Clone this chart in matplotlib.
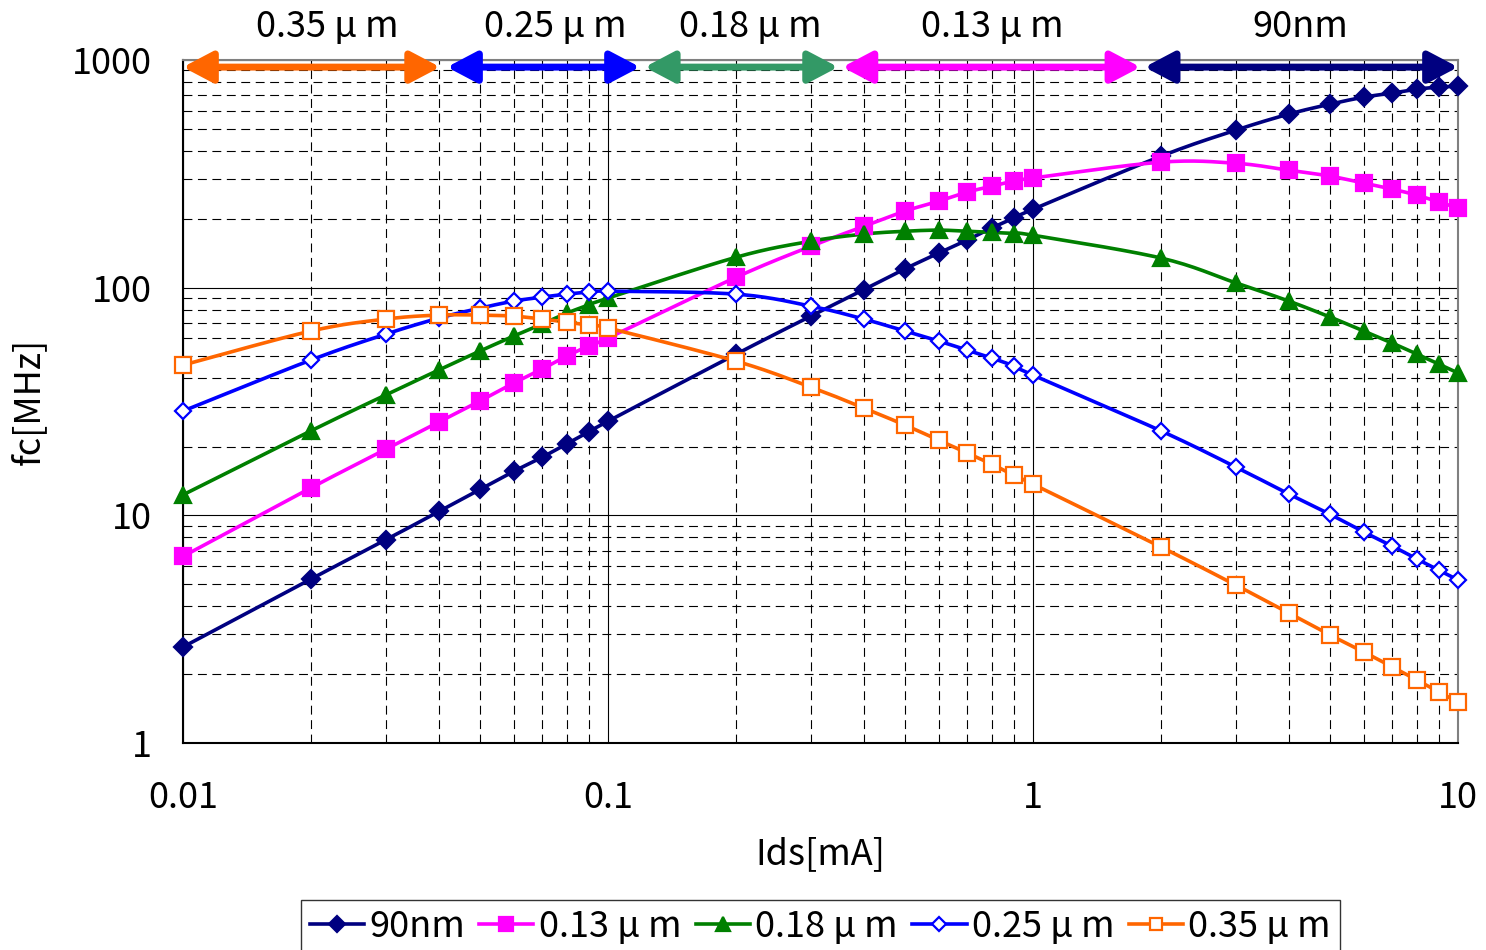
import numpy as np
import matplotlib
matplotlib.use('Agg')
import matplotlib.pyplot as plt
from matplotlib.lines import Line2D
from matplotlib.patches import FancyArrowPatch
from matplotlib.ticker import FixedLocator, FuncFormatter, NullFormatter, LogLocator
import matplotlib.transforms as mtransforms

plt.rcParams['font.family'] = ['Noto Sans CJK JP', 'DejaVu Sans']

# drain current [mA]
ids = [0.01, 0.02, 0.03, 0.04, 0.05, 0.06, 0.07, 0.08, 0.09,
       0.1, 0.2, 0.3, 0.4, 0.5, 0.6, 0.7, 0.8, 0.9,
       1, 2, 3, 4, 5, 6, 7, 8, 9, 10]

# cutoff frequency fc [MHz] per process node
fc_90nm = [2.64, 5.25, 7.8, 10.4, 13.0, 15.6, 18.0, 20.6, 23.2,
           25.9, 51, 75, 98, 121, 142, 162, 183, 202,
           221, 378, 492, 579, 640, 687, 716, 745, 760, 768]
fc_013 = [6.6, 13.2, 19.5, 25.7, 31.8, 38.1, 43.9, 50.1, 55.4,
          60.1, 111, 152, 186, 217, 240, 263, 279, 294,
          303, 356, 352, 328, 309, 288, 271, 255, 238, 224]
fc_018 = [12.3, 23.5, 33.8, 43.5, 52.7, 61.3, 69.2, 77.3, 83.9,
          90, 136, 160, 172, 177, 179, 177, 175, 173,
          170, 135, 105, 87.3, 74.3, 64.5, 57.1, 51.1, 46.2, 42.2]
fc_025 = [28.7, 48.1, 62.5, 73.5, 81.3, 87.3, 90.9, 93.7, 95.6,
          96.6, 93.7, 83, 72.8, 64.5, 58.3, 53.2, 49.1, 45.3,
          41.3, 23.5, 16.3, 12.4, 10.1, 8.45, 7.33, 6.43, 5.75, 5.2]
fc_035 = [45.7, 64.5, 72.8, 75.8, 75.8, 75.0, 72.8, 70.6, 68.5,
          66.5, 47.6, 36.6, 29.6, 24.9, 21.4, 18.8, 16.8, 15.0,
          13.7, 7.26, 4.94, 3.72, 2.98, 2.51, 2.16, 1.89, 1.68, 1.51]

labels = ['90nm', '0.13 μ m', '0.18 μ m', '0.25 μ m', '0.35 μ m']
series = [fc_90nm, fc_013, fc_018, fc_025, fc_035]

# current ranges of each node, marked with arrows above the plot
range_labels = ['0.35 μ m', '0.25 μ m', '0.18 μ m', '0.13 μ m', '90nm']
range_start = [0.01, 0.0418, 0.122, 0.356, 1.83]
range_end = [0.0403, 0.119, 0.348, 1.79, 10]
range_text_x = [0.0218, 0.075, 0.216, 0.80, 4.25]
range_colors = ['#FF6600', '#0000FF', '#339966', '#FF00FF', '#000080']

colors = ['#000080', '#FF00FF', '#008000', '#0000FF', '#FF6600']
markers = ['D', 's', '^', 'D', 's']
msizes = [9.5, 11.5, 12, 8, 11]
mfaces = ['#000080', '#FF00FF', '#008000', 'white', 'white']

FS = 26


def smooth(x, y, n=16):
    # Catmull-Rom curve through the points, done in log-log space
    lx = np.log10(x) * 425
    ly = np.log10(y) * 227.7
    P = np.column_stack([lx, ly])
    P = np.vstack([P[0], P, P[-1]])
    out = []
    for i in range(1, len(P) - 2):
        p0, p1, p2, p3 = P[i - 1], P[i], P[i + 1], P[i + 2]
        c1 = p1 + (p2 - p0) / 6
        c2 = p2 - (p3 - p1) / 6
        t = np.linspace(0, 1, n, endpoint=False)[:, None]
        seg = ((1 - t) ** 3) * p1 + 3 * ((1 - t) ** 2) * t * c1 + 3 * (1 - t) * t ** 2 * c2 + t ** 3 * p2
        out.append(seg)
    out.append(P[-2][None, :])
    out = np.vstack(out)
    return 10 ** (out[:, 0] / 425), 10 ** (out[:, 1] / 227.7)


fig = plt.figure(figsize=(14.86, 9.5), dpi=100)
ax = fig.add_axes([0.1231, 0.2179, 0.8581, 0.7189])
ax.set_xscale('log')
ax.set_yscale('log')
ax.set_xlim(0.01, 10)
ax.set_ylim(1, 1000)

ax.xaxis.set_major_locator(FixedLocator([0.01, 0.1, 1, 10]))
ax.yaxis.set_major_locator(FixedLocator([1, 10, 100, 1000]))
ax.xaxis.set_minor_locator(LogLocator(base=10, subs=np.arange(2, 10)))
ax.yaxis.set_minor_locator(LogLocator(base=10, subs=np.arange(2, 10)))
fmt = FuncFormatter(lambda v, p: '%g' % v)
ax.xaxis.set_major_formatter(fmt)
ax.yaxis.set_major_formatter(fmt)
ax.xaxis.set_minor_formatter(NullFormatter())
ax.yaxis.set_minor_formatter(NullFormatter())
ax.tick_params(which='both', length=0, labelsize=FS)
ax.tick_params(axis='x', pad=27)
ax.tick_params(axis='y', pad=22)

ax.grid(which='major', color='black', lw=0.8, ls='-')
ax.grid(which='minor', color='black', lw=0.8, ls=(0, (8, 5)))
ax.set_axisbelow(True)

for s in ['left', 'bottom']:
    ax.spines[s].set_color('black')
    ax.spines[s].set_linewidth(1.5)
for s in ['top', 'right']:
    ax.spines[s].set_color('#808080')
    ax.spines[s].set_linewidth(1.5)

handles = []
for vals, lab, c, m, ms, mf in zip(series, labels, colors, markers, msizes, mfaces):
    sx, sy = smooth(ids, vals)
    ax.plot(sx, sy, color=c, lw=2.6, zorder=3)
    ax.plot(ids, vals, ls='none', marker=m, ms=ms, mfc=mf, mec=c, mew=1.6,
            zorder=4, clip_on=False)
    handles.append(Line2D([], [], color=c, lw=2.6, marker=m, ms=ms * 0.85,
                          mfc=mf, mec=c, mew=1.6, label=lab))

arrow_y = 931
trans = mtransforms.blended_transform_factory(ax.transData, ax.transAxes)
for x0, x1, tx, lab, c in zip(range_start, range_end, range_text_x, range_labels, range_colors):
    arr = FancyArrowPatch((x0, arrow_y), (x1, arrow_y),
                          arrowstyle='<|-|>,head_length=18,head_width=9.5',
                          color=c, lw=5, shrinkA=0, shrinkB=0,
                          clip_on=False, zorder=6)
    ax.add_patch(arr)
    ax.text(tx, 1.048, lab, transform=trans, ha='center', va='center',
            fontsize=FS)

ax.set_xlabel('Ids[mA]', fontsize=FS, labelpad=14)
ax.set_ylabel('fc[MHz]', fontsize=FS, labelpad=18)

fig.legend(handles=handles, loc='upper center', bbox_to_anchor=(0.552, 0.0526),
           ncol=5, fontsize=FS, frameon=True, fancybox=False, edgecolor='black',
           handlelength=1.5, handletextpad=0.15, columnspacing=0.4,
           borderpad=0.25, borderaxespad=0)

fig.savefig('out.png', dpi=100)
